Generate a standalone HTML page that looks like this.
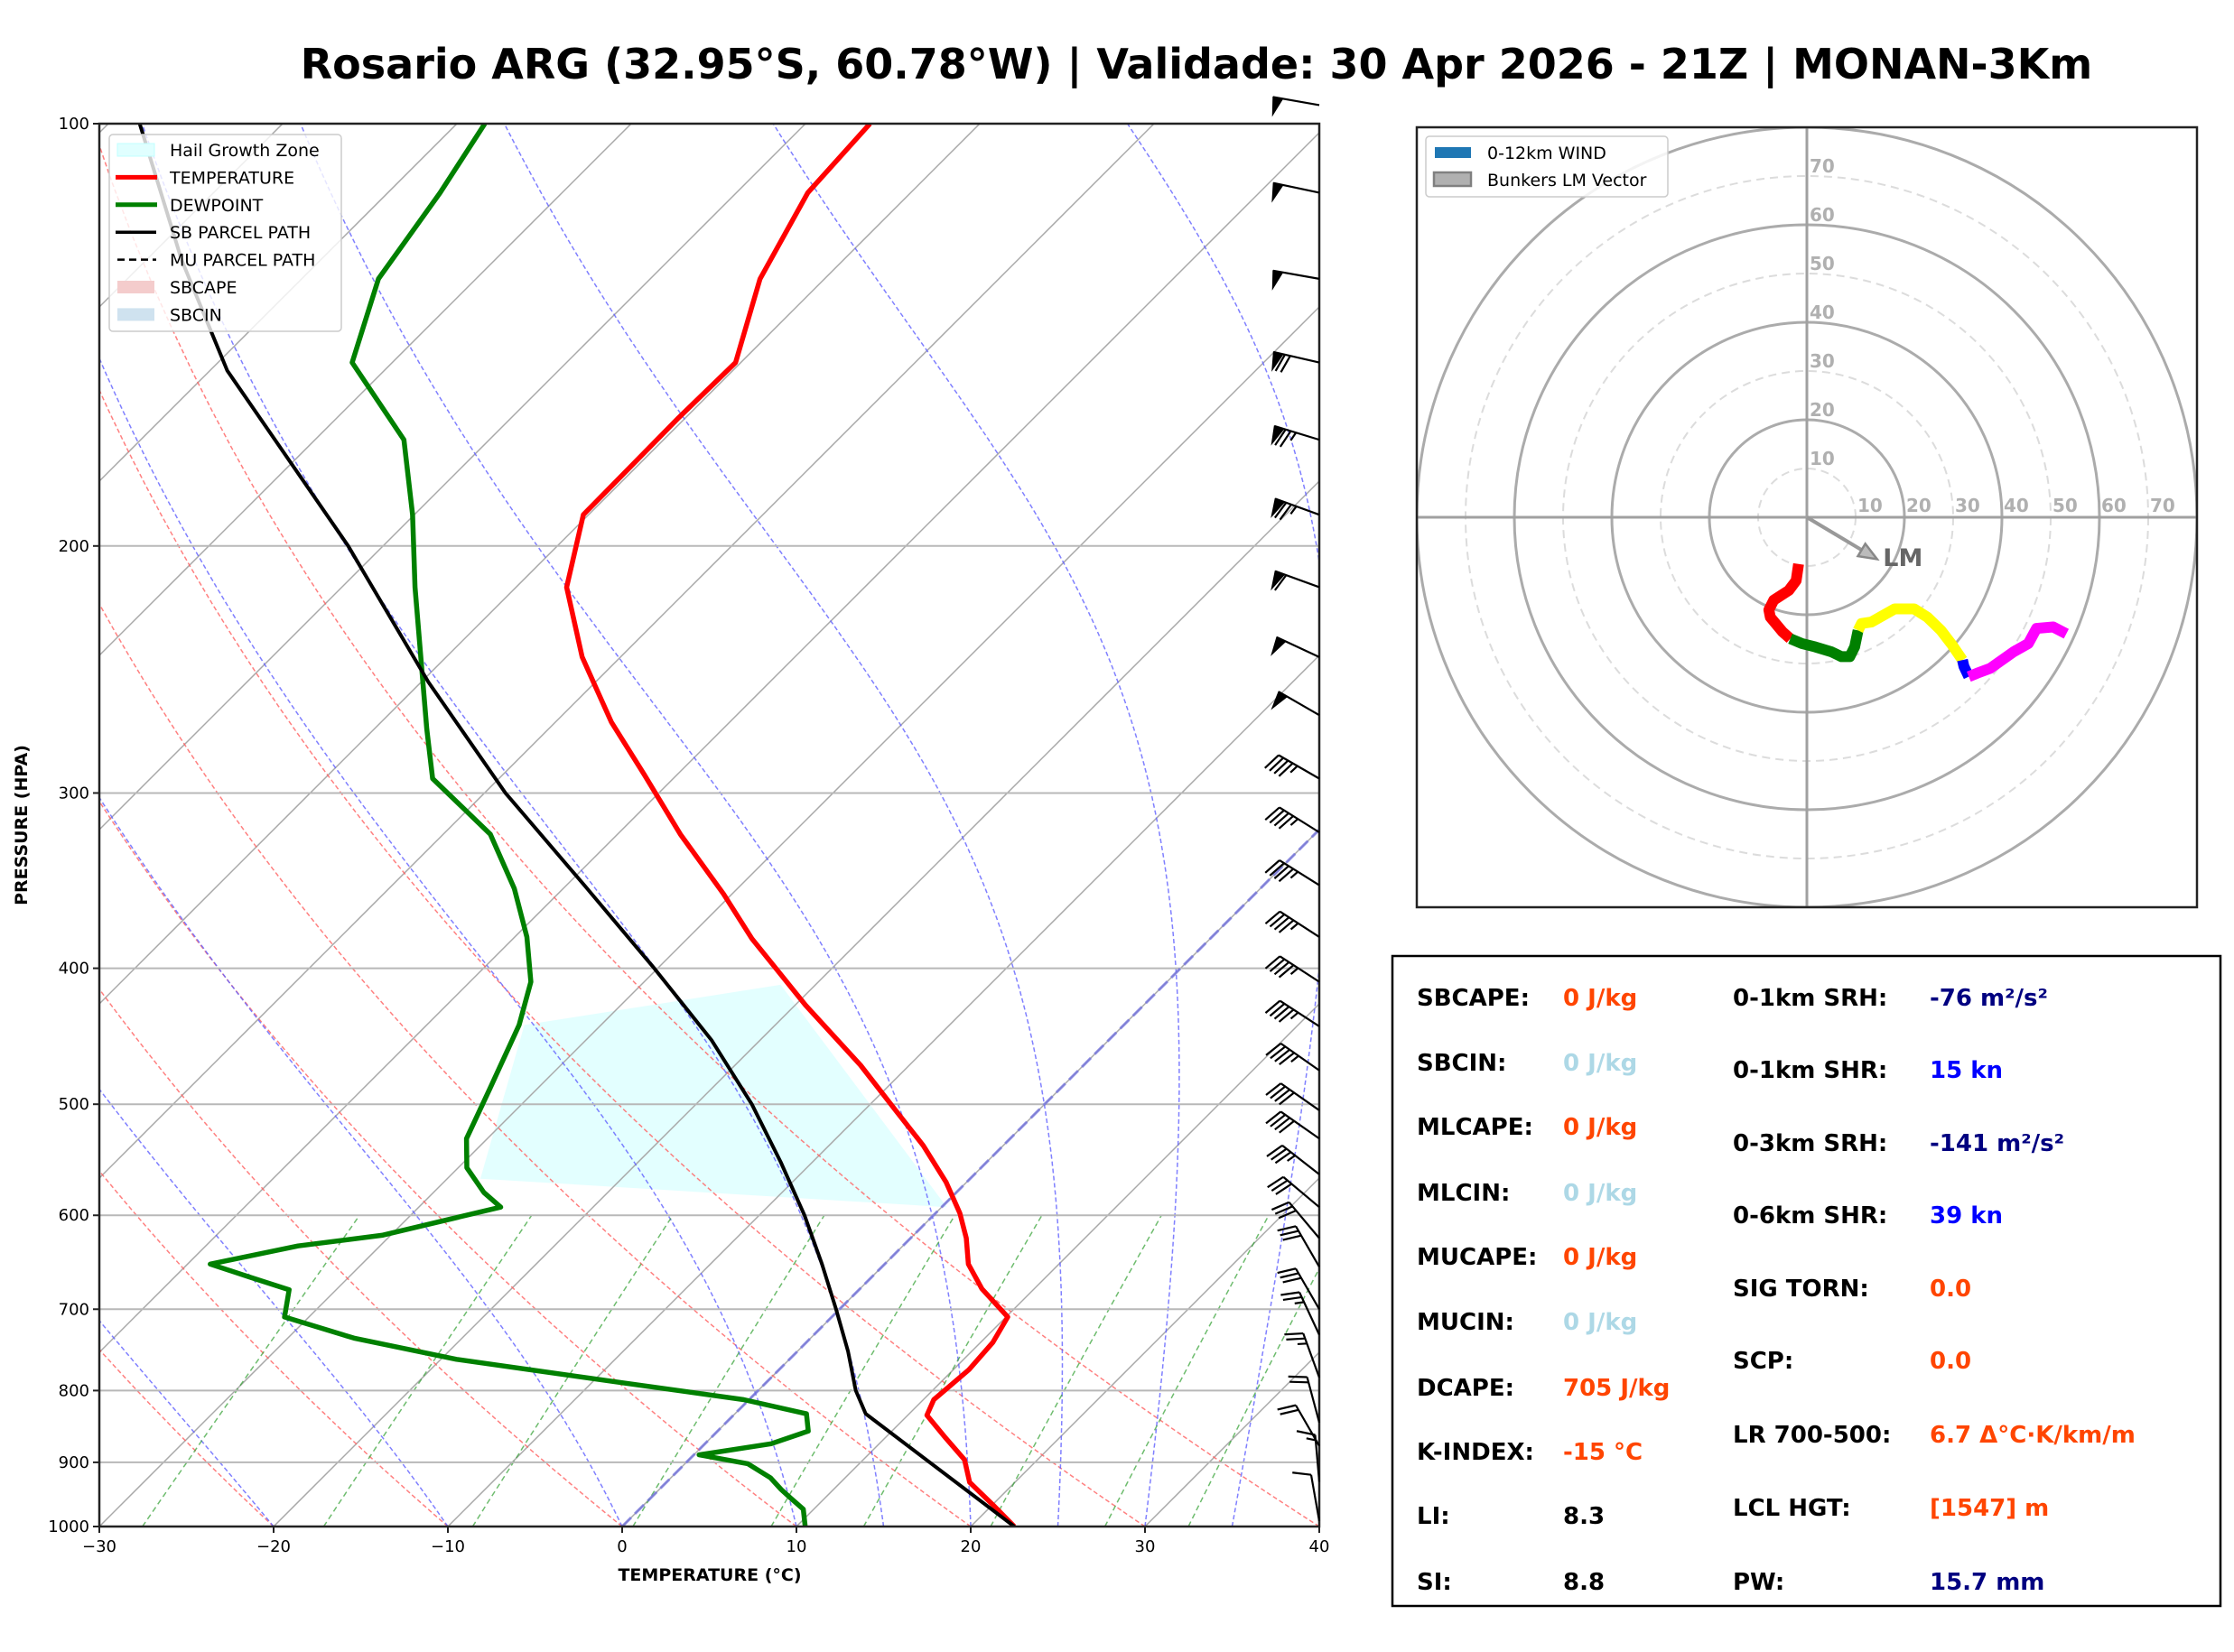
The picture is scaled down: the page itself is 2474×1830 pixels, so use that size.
<!DOCTYPE html>
<html><head><meta charset="utf-8"><style>
html,body{margin:0;padding:0;background:#fff;}
svg{display:block;font-family:"DejaVu Sans","Liberation Sans",sans-serif;}
</style></head><body>
<svg id="fig" xmlns="http://www.w3.org/2000/svg" width="2474" height="1830" viewBox="0 0 2474 1830">
<rect x="0" y="0" width="2474" height="1830" fill="#fff"/>
<text x="1325" y="87" text-anchor="middle" font-size="46" font-weight="bold" fill="#000">Rosario ARG (32.95°S, 60.78°W) | Validade: 30 Apr 2026 - 21Z | MONAN-3Km</text>
<defs>
<clipPath id="skewClip"><rect x="110" y="137" width="1351" height="1554"/></clipPath>
<clipPath id="hodoClip"><rect x="1569" y="141" width="864" height="864"/></clipPath>
</defs>
<g id="skew"></g>
<g id="hodo"></g>
<g id="stats">
<rect x="1542" y="1059" width="917" height="720" fill="#fff" stroke="#000" stroke-width="2.5"/>
<g font-size="26" font-weight="bold">
<text x="1569" y="1114" fill="#000">SBCAPE:</text><text x="1731" y="1114" fill="#ff4500">0 J/kg</text>
<text x="1569" y="1186" fill="#000">SBCIN:</text><text x="1731" y="1186" fill="#add8e6">0 J/kg</text>
<text x="1569" y="1257" fill="#000">MLCAPE:</text><text x="1731" y="1257" fill="#ff4500">0 J/kg</text>
<text x="1569" y="1330" fill="#000">MLCIN:</text><text x="1731" y="1330" fill="#add8e6">0 J/kg</text>
<text x="1569" y="1401" fill="#000">MUCAPE:</text><text x="1731" y="1401" fill="#ff4500">0 J/kg</text>
<text x="1569" y="1473" fill="#000">MUCIN:</text><text x="1731" y="1473" fill="#add8e6">0 J/kg</text>
<text x="1569" y="1546" fill="#000">DCAPE:</text><text x="1731" y="1546" fill="#ff4500">705 J/kg</text>
<text x="1569" y="1617" fill="#000">K-INDEX:</text><text x="1731" y="1617" fill="#ff4500">-15 °C</text>
<text x="1569" y="1688" fill="#000">LI:</text><text x="1731" y="1688" fill="#000">8.3</text>
<text x="1569" y="1761" fill="#000">SI:</text><text x="1731" y="1761" fill="#000">8.8</text>
<text x="1919" y="1114" fill="#000">0-1km SRH:</text><text x="2137" y="1114" fill="#000080">-76 m²/s²</text>
<text x="1919" y="1194" fill="#000">0-1km SHR:</text><text x="2137" y="1194" fill="#0000ff">15 kn</text>
<text x="1919" y="1275" fill="#000">0-3km SRH:</text><text x="2137" y="1275" fill="#000080">-141 m²/s²</text>
<text x="1919" y="1355" fill="#000">0-6km SHR:</text><text x="2137" y="1355" fill="#0000ff">39 kn</text>
<text x="1919" y="1436" fill="#000">SIG TORN:</text><text x="2137" y="1436" fill="#ff4500">0.0</text>
<text x="1919" y="1516" fill="#000">SCP:</text><text x="2137" y="1516" fill="#ff4500">0.0</text>
<text x="1919" y="1598" fill="#000">LR 700-500:</text><text x="2137" y="1598" fill="#ff4500">6.7 Δ°C·K/km/m</text>
<text x="1919" y="1679" fill="#000">LCL HGT:</text><text x="2137" y="1679" fill="#ff4500">[1547] m</text>
<text x="1919" y="1761" fill="#000">PW:</text><text x="2137" y="1761" fill="#000080">15.7 mm</text>
</g>
</g>
</svg>
<script>
// ---------- Sounding data ----------
const tempP = [1000,966,930,896,865,833,812,773,739,709,677,650,623,598,568,535,505,469,425,381,354,321,291,267,240,214,190,162,148,129,112,100];
const tempT = [22.5,20.1,17.4,15.8,13.5,11.1,10.6,10.9,10.7,10.1,7.0,4.8,3.2,1.4,-1.2,-4.6,-8.2,-12.8,-19.4,-26.3,-30.5,-36.4,-41.9,-46.8,-52.2,-57.1,-60.3,-60.4,-60.3,-63.7,-65.9,-66.3];
const dewP = [1000,972,954,941,923,902,889,873,855,831,812,788,760,734,709,678,664,650,631,620,592,578,555,529,488,439,409,380,351,321,293,270,214,190,168,148,129,112,100];
const dewT = [10.5,9.4,8.0,7.0,5.7,3.6,0.3,3.8,5.2,4.1,-0.3,-8.9,-19.1,-26.2,-31.4,-32.7,-35.7,-38.7,-34.7,-30.5,-25.3,-27.1,-29.5,-31.2,-32.7,-34.7,-36.5,-39.3,-42.8,-47.3,-53.8,-57.0,-65.8,-70.1,-74.9,-82.3,-85.6,-87.0,-88.4];
const parcelP = [1000,831,800,750,700,650,600,550,500,450,400,350,300,250,200,150,125,100];
const parcelT = [22.5,7.5,5.6,2.9,-0.2,-3.6,-7.4,-11.8,-16.8,-22.8,-30.2,-38.8,-48.8,-59.6,-72.0,-89.0,-98.0,-108.2];
const hgzP = [439,411,592,565];
const hgzT = [-34.4,-22.0,0.3,-28.1];
const pTicks = [100,200,300,400,500,600,700,800,900,1000];
const tTicks = [-30,-20,-10,0,10,20,30,40];
// wind barbs
const barbP = [97,112,129,148,168,190,214,240,264,293,320,349,380,409,440,473,505,529,561,592,623,653,700,730,783,843,876,929,991];
const barbSpd = [50,50,50,70,75,75,60,50,50,45,45,45,45,45,45,45,40,40,35,30,30,30,30,25,25,20,20,15,10];
const barbDir = [280,282,280,283,287,290,290,295,300,300,302,302,303,303,303,305,305,305,308,310,320,330,330,335,340,345,330,355,350];
// hodograph (kt)
const hodoRedU = [-1.7,-2.2,-3.7,-6.8,-7.8,-7.5,-5.0,-3.4];
const hodoRedV = [-9.6,-13.0,-15.0,-17.0,-19.0,-20.5,-23.5,-24.9];
const hodoGreenU = [-3.4,-1.0,1.7,5.0,7.1,8.8,9.8,10.5];
const hodoGreenV = [-24.9,-25.9,-26.6,-27.6,-28.6,-28.6,-26.6,-23.2];
const hodoYellowU = [10.5,11.2,13.2,18.0,22.0,24.7,27.5,29.8,31.9];
const hodoYellowV = [-23.2,-21.8,-21.5,-18.8,-18.8,-20.5,-23.2,-26.2,-29.3];
const hodoBlueU = [31.9,32.2,33.2];
const hodoBlueV = [-29.3,-30.6,-32.7];
const hodoMagU = [33.2,34.9,37.6,42.4,45.4,47.1,50.5,53.2];
const hodoMagV = [-32.7,-32.0,-31.0,-27.6,-25.9,-22.8,-22.5,-23.9];
const lmU = [14.4];
const lmV = [-8.6];
const ringKt = [10,20,30,40,50,60,70,80];
const ringLabels = [10,20,30,40,50,60,70];

const NS='http://www.w3.org/2000/svg';
function mk(parent, tag, attrs){const e=document.createElementNS(NS,tag);for(const k in attrs)e.setAttribute(k,attrs[k]);parent.appendChild(e);return e;}

// ---------- Skew-T axes ----------
const X0=110,X1=1461,W=X1-X0,Y100=137,Y1000=1691,H=Y1000-Y100;
function yP(p){return Y100+H*Math.log10(p/100);}
function xT(T,p){return X0+(T+30)/70*W+(Y1000-yP(p));}
const skew=document.getElementById('skew');
const plot=mk(skew,'g',{'clip-path':'url(#skewClip)'});


function pathFrom(ps,ts){return ps.map((p,i)=>(i?'L':'M')+xT(ts[i],p).toFixed(1)+','+yP(p).toFixed(1)).join(' ');}
function pressLevels(a,b,step){const r=[];for(let p=a;p>=b-0.001;p-=step)r.push(p);return r;}

// hail growth zone
const hg=mk(plot,'path',{d:pathFrom(hgzP,hgzT)+'Z',fill:'#e0ffff',stroke:'none',opacity:'0.9'});



// isotherms
for(let T=-150;T<=40;T+=10){
  const l=mk(plot,'line',{x1:xT(T,1000),y1:yP(1000),x2:xT(T,100),y2:yP(100),stroke:'#a8a8a8','stroke-width':1.5});
  
  
}
// dry adiabats
const plev=pressLevels(1000,100,10);
for(let t0=-30;t0<=40;t0+=10){
  const th=t0+273.15;
  const ts=plev.map(p=>th*Math.pow(p/1000,0.2857)-273.15);
  const l=mk(plot,'path',{d:pathFrom(plev,ts),fill:'none',stroke:'#ff6060','stroke-width':1.5,'stroke-dasharray':'5,3',opacity:'0.8'});
  
  
}
// moist adiabats
function esat(Tc){return 6.112*Math.exp(17.67*Tc/(Tc+243.5));}
const moistStarts=[-50,-40,-30,-20,-10,0,10,15,20,25,30,35,40,45];
moistStarts.forEach(t0=>{
  let T=t0+273.15;const ps=[],ts=[];
  for(let p=1000;p>=100;p-=2){
    ps.push(p);ts.push(T-273.15);
    const es=esat(T-273.15);const rs=0.622*es/(p-es);
    const num=287*T+2.5e6*rs;const den=1004+2.5e6*2.5e6*rs*0.622/(287*T*T);
    T+=num/(den*p)*(-2);
  }
  const l=mk(plot,'path',{d:pathFrom(ps,ts),fill:'none',stroke:'#6060ff','stroke-width':1.5,'stroke-dasharray':'5,3',opacity:'0.8'});
  
  
});
// mixing ratio lines
[0.0004,0.001,0.002,0.004,0.007,0.01,0.016,0.024,0.032].forEach(w=>{
  const ps=pressLevels(1000,600,10);
  const ts=ps.map(p=>{const e=p*w/(0.622+w);const a=Math.log(e/6.112);return 243.5*a/(17.67-a);});
  const l=mk(plot,'path',{d:pathFrom(ps,ts),fill:'none',stroke:'#30a030','stroke-width':1.5,'stroke-dasharray':'6,4',opacity:'0.7'});
  
  
});
// pressure gridlines
pTicks.forEach(p=>{
  const l=mk(plot,'line',{x1:X0,x2:X1,y1:yP(p),y2:yP(p),stroke:'#b8b8b8','stroke-width':2});
  
  
});
// freezing isotherm
const fz=mk(plot,'line',{x1:xT(0,1000),y1:yP(1000),x2:xT(0,100),y2:yP(100),stroke:'#7070e0','stroke-width':3,'stroke-dasharray':'14,6',opacity:'0.75'});


// profiles
const tl=mk(plot,'path',{d:pathFrom(tempP,tempT),fill:'none',stroke:'#ff0000','stroke-width':5.5,'stroke-linejoin':'round'});


const dl=mk(plot,'path',{d:pathFrom(dewP,dewT),fill:'none',stroke:'#008000','stroke-width':5.5,'stroke-linejoin':'round'});


const sb=mk(plot,'path',{d:pathFrom(parcelP,parcelT),fill:'none',stroke:'#000','stroke-width':4,'stroke-linejoin':'round'});


const mu=mk(plot,'path',{d:pathFrom(parcelP,parcelT),fill:'none',stroke:'#000','stroke-width':2.5,'stroke-dasharray':'10,5'});



// frame
const fr=mk(skew,'rect',{x:X0,y:Y100,width:W,height:H,fill:'none',stroke:'#222','stroke-width':2.5});


pTicks.forEach(p=>{
  const t=mk(skew,'line',{x1:X0-7,x2:X0,y1:yP(p),y2:yP(p),stroke:'#222','stroke-width':2});
  
  
  const tx=mk(skew,'text',{x:X0-11,y:yP(p)+6,'text-anchor':'end','font-size':18,fill:'#000'});
  tx.textContent=p;
  
  
});
tTicks.forEach(T=>{
  const x=X0+(T+30)/70*W;
  const t=mk(skew,'line',{x1:x,x2:x,y1:Y1000,y2:Y1000+7,stroke:'#222','stroke-width':2});
  
  
  const tx=mk(skew,'text',{x:x,y:Y1000+28,'text-anchor':'middle','font-size':18,fill:'#000'});
  tx.textContent=(T<0?'\u2212'+(-T):T);
  
  
});
const xl=mk(skew,'text',{x:786,y:1751,'text-anchor':'middle','font-size':19,'font-weight':'bold'});
xl.textContent='TEMPERATURE (°C)';


const yl=mk(skew,'text',{x:0,y:0,'text-anchor':'middle','font-size':19,'font-weight':'bold',transform:'translate(30,914) rotate(-90)'});
yl.textContent='PRESSURE (HPA)';



// wind barbs
const barbs=mk(skew,'g',{stroke:'#000','stroke-width':2.2,fill:'#000'});


barbP.forEach((p,i)=>{
  const d=barbDir[i]*Math.PI/180;const sx=Math.sin(d),sy=-Math.cos(d);
  const px=sy,py=-sx;const L=52;
  const bx=X1,by=yP(p);const tx=bx+L*sx,ty=by+L*sy;
  const g=mk(barbs,'g',{});
  
  
  mk(g,'line',{x1:bx,y1:by,x2:tx,y2:ty});
  let s=Math.round(barbSpd[i]/5)*5;let pos=0;
  while(s>=50){
    const ax=tx-sx*pos,ay=ty-sy*pos;
    mk(g,'polygon',{points:`${ax},${ay} ${ax-sx*11},${ay-sy*11} ${ax-sx*3+px*20},${ay-sy*3+py*20}`,'stroke-width':1});
    pos+=13;s-=50;
  }
  while(s>=10){
    const ax=tx-sx*pos,ay=ty-sy*pos;
    mk(g,'line',{x1:ax,y1:ay,x2:ax+px*20+sx*6,y2:ay+py*20+sy*6});
    pos+=6;s-=10;
  }
  if(s>=5){
    if(pos===0)pos=6;
    const ax=tx-sx*pos,ay=ty-sy*pos;
    mk(g,'line',{x1:ax,y1:ay,x2:ax+px*10+sx*3,y2:ay+py*10+sy*3});
  }
});

// skew-T legend
const lg=mk(skew,'g',{});


mk(lg,'rect',{x:121,y:149,width:257,height:218,rx:4,fill:'#fff','fill-opacity':'0.8',stroke:'#ccc','stroke-width':1.5});
const legItems=[['Hail Growth Zone','rect','#e0ffff'],['TEMPERATURE','line','#ff0000'],['DEWPOINT','line','#008000'],['SB PARCEL PATH','thin','#000'],['MU PARCEL PATH','dash','#000'],['SBCAPE','rect','#f4cccc'],['SBCIN','rect','#cfe2ef']];
legItems.forEach((it,i)=>{
  const y=166+i*30.4;
  const e=mk(lg,'g',{});
  
  
  if(it[1]==='rect')mk(e,'rect',{x:130,y:y-7,width:41,height:14,fill:it[2],stroke:it[0]==='Hail Growth Zone'?'#c0ffff':'none'});
  else if(it[1]==='line')mk(e,'line',{x1:128,x2:174,y1:y,y2:y,stroke:it[2],'stroke-width':5});
  else if(it[1]==='thin')mk(e,'line',{x1:128,x2:173,y1:y,y2:y,stroke:it[2],'stroke-width':3.5});
  else mk(e,'line',{x1:130,x2:173,y1:y,y2:y,stroke:it[2],'stroke-width':2.5,'stroke-dasharray':'8,5'});
  const t=mk(e,'text',{x:188,y:y+7,'font-size':19,fill:'#000'});t.textContent=it[0];
});

// ---------- Hodograph ----------
const hodo=document.getElementById('hodo');
const CX=2001,CY=573,K=5.4;
function hx(u){return CX+u*K;} function hy(v){return CY-v*K;}
const hp=mk(hodo,'g',{'clip-path':'url(#hodoClip)'});


ringKt.forEach(r=>{
  const solid=r%20===0;
  const c=mk(hp,'circle',{cx:CX,cy:CY,r:r*K,fill:'none',stroke:solid?'#ababab':'#dcdcdc','stroke-width':solid?3:2,'stroke-dasharray':solid?'none':'9,6'});
  
  
});
const ax1=mk(hp,'line',{x1:1569,x2:2433,y1:CY,y2:CY,stroke:'#a0a0a0','stroke-width':3});


const ax2=mk(hp,'line',{x1:CX,x2:CX,y1:141,y2:1005,stroke:'#a0a0a0','stroke-width':3});


ringLabels.forEach(r=>{
  const a=mk(hp,'text',{x:hx(r)+2,y:CY-6,'font-size':20,'font-weight':'bold',fill:'#b0b0b0'});
  a.textContent=r;
  
  
  const b=mk(hp,'text',{x:CX+3,y:hy(r)-4,'font-size':20,'font-weight':'bold',fill:'#b0b0b0'});
  b.textContent=r;
  
  
});
// LM vector
const lmx=hx(lmU[0]),lmy=hy(lmV[0]);
const ang=Math.atan2(lmy-CY,lmx-CX);
const lmL=mk(hp,'line',{x1:CX,y1:CY,x2:lmx-12*Math.cos(ang),y2:lmy-12*Math.sin(ang),stroke:'#999','stroke-width':4});


const hx1=lmx-20*Math.cos(ang)+8*Math.sin(ang),hy1=lmy-20*Math.sin(ang)-8*Math.cos(ang);
const hx2=lmx-20*Math.cos(ang)-8*Math.sin(ang),hy2=lmy-20*Math.sin(ang)+8*Math.cos(ang);
const lmH=mk(hp,'polygon',{points:`${lmx},${lmy} ${hx1},${hy1} ${hx2},${hy2}`,fill:'#bbb',stroke:'#888','stroke-width':2.5});


const lmT=mk(hp,'text',{x:hx(15.6),y:hy(-10),'font-size':27,'font-weight':'bold',fill:'#666'});
lmT.textContent='LM';


// segments
[[hodoRedU,hodoRedV,'#ff0000','hodograph-segment-red'],[hodoGreenU,hodoGreenV,'#008000','hodograph-segment-green'],[hodoYellowU,hodoYellowV,'#ffff00','hodograph-segment-yellow'],[hodoBlueU,hodoBlueV,'#0000ff','hodograph-segment-blue'],[hodoMagU,hodoMagV,'#ff00ff','hodograph-segment-magenta']].forEach(s=>{
  const d=s[0].map((u,i)=>(i?'L':'M')+hx(u).toFixed(1)+','+hy(s[1][i]).toFixed(1)).join(' ');
  const p=mk(hp,'path',{d:d,fill:'none',stroke:s[2],'stroke-width':12,'stroke-linejoin':'round'});
  
  
});
const hf=mk(hodo,'rect',{x:1569,y:141,width:864,height:864,fill:'none',stroke:'#222','stroke-width':2.5});


const hl=mk(hodo,'g',{});


mk(hl,'rect',{x:1579,y:151,width:268,height:67,rx:4,fill:'#fff','fill-opacity':'0.85',stroke:'#ccc','stroke-width':1.5});
const he1=mk(hl,'g',{});


mk(he1,'rect',{x:1589,y:163,width:40,height:12,fill:'#1f77b4'});
const ht1=mk(he1,'text',{x:1647,y:176,'font-size':19});ht1.textContent='0-12km WIND';
const he2=mk(hl,'g',{});


mk(he2,'rect',{x:1588,y:191,width:41,height:15,fill:'#b0b0b0',stroke:'#808080','stroke-width':2.5});
const ht2=mk(he2,'text',{x:1647,y:206,'font-size':19});ht2.textContent='Bunkers LM Vector';
</script>
</body></html>
